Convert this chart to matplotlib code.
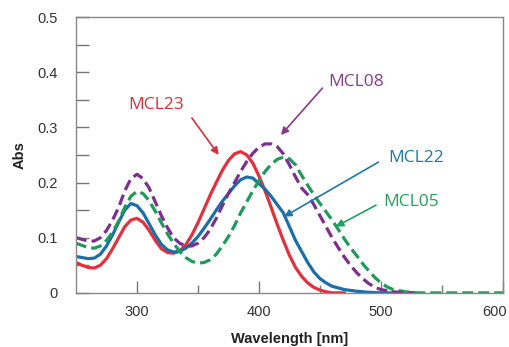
import matplotlib.pyplot as plt
import matplotlib.transforms as mtransforms

plt.rcParams["font.family"] = ["Liberation Sans", "DejaVu Sans"]

# absorption spectra
wl_mcl23 = [250, 255, 260, 265, 270, 275, 280, 285, 290, 295, 300, 305, 310, 315, 320, 325, 330, 335,
            340, 345, 350, 355, 360, 365, 370, 375, 380, 385, 390, 395, 400, 405, 410, 415, 420, 425,
            430, 435, 440, 445, 450, 455, 460, 470]
abs_mcl23 = [0.055, 0.050, 0.046, 0.045, 0.050, 0.062, 0.080, 0.100, 0.120, 0.132, 0.135, 0.128, 0.113,
             0.095, 0.080, 0.073, 0.072, 0.076, 0.087, 0.105, 0.127, 0.152, 0.177, 0.200, 0.222, 0.240,
             0.252, 0.256, 0.250, 0.235, 0.212, 0.185, 0.155, 0.124, 0.095, 0.068, 0.046, 0.030, 0.018,
             0.010, 0.005, 0.002, 0.0, 0.0]

wl_mcl22 = [250, 255, 260, 265, 270, 275, 280, 285, 290, 295, 300, 305, 310, 315, 320, 325, 330, 335,
            340, 345, 350, 355, 360, 365, 370, 375, 380, 385, 390, 395, 400, 405, 410, 415, 420, 425,
            430, 435, 440, 445, 450, 455, 460, 470, 480, 490, 500, 528]
abs_mcl22 = [0.066, 0.064, 0.062, 0.063, 0.070, 0.085, 0.105, 0.128, 0.150, 0.162, 0.158, 0.145, 0.125,
             0.105, 0.088, 0.078, 0.074, 0.075, 0.081, 0.090, 0.102, 0.117, 0.133, 0.150, 0.166, 0.180,
             0.194, 0.205, 0.210, 0.208, 0.198, 0.188, 0.175, 0.160, 0.145, 0.120, 0.095, 0.075, 0.055,
             0.038, 0.026, 0.018, 0.012, 0.006, 0.003, 0.001, 0.0, 0.0]

wl_mcl05 = [250, 255, 260, 265, 270, 275, 280, 285, 290, 295, 300, 305, 310, 315, 320, 325, 330, 335,
            340, 345, 350, 355, 360, 365, 370, 375, 380, 385, 390, 395, 400, 405, 410, 415, 420, 425,
            430, 435, 440, 445, 450, 455, 460, 465, 470, 475, 480, 485, 490, 495, 500, 505, 510, 520,
            530, 600]
abs_mcl05 = [0.090, 0.086, 0.082, 0.081, 0.085, 0.095, 0.110, 0.130, 0.155, 0.175, 0.184, 0.180, 0.167,
             0.148, 0.127, 0.107, 0.090, 0.075, 0.064, 0.057, 0.054, 0.055, 0.060, 0.070, 0.085, 0.102,
             0.122, 0.145, 0.165, 0.185, 0.203, 0.220, 0.233, 0.242, 0.246, 0.243, 0.232, 0.213, 0.195,
             0.178, 0.162, 0.147, 0.132, 0.115, 0.098, 0.082, 0.068, 0.053, 0.040, 0.028, 0.018, 0.011,
             0.006, 0.002, 0.0, 0.0]

wl_mcl08 = [250, 255, 260, 265, 270, 275, 280, 285, 290, 295, 300, 305, 310, 315, 320, 325, 330, 335,
            340, 345, 350, 355, 360, 365, 370, 375, 380, 385, 390, 395, 400, 405, 410, 415, 420, 425,
            430, 435, 440, 445, 450, 455, 460, 465, 470, 475, 480, 485, 490, 495, 500, 510, 520, 527]
abs_mcl08 = [0.100, 0.097, 0.094, 0.094, 0.100, 0.113, 0.132, 0.155, 0.185, 0.207, 0.215, 0.207, 0.190,
             0.165, 0.140, 0.118, 0.100, 0.090, 0.085, 0.085, 0.090, 0.100, 0.115, 0.135, 0.158, 0.180,
             0.200, 0.220, 0.238, 0.253, 0.264, 0.270, 0.270, 0.265, 0.252, 0.232, 0.210, 0.190, 0.178,
             0.160, 0.140, 0.120, 0.100, 0.082, 0.065, 0.050, 0.037, 0.026, 0.017, 0.010, 0.006, 0.002,
             0.0, 0.0]

# label text, text position, arrow start, arrow tip (data coords)
labels = ["MCL23", "MCL08", "MCL22", "MCL05"]
text_pos = [(316, 0.34), (480, 0.382), (529, 0.245), (525, 0.165)]
arrow_from = [(345, 0.317), (452, 0.371), (498, 0.237), (496, 0.159)]
arrow_to = [(367, 0.25), (418, 0.286), (420.5, 0.138), (463, 0.12)]
label_colors = ["#d9303c", "#883a8c", "#1f77a8", "#24a05e"]

c_red = "#e5303c"
c_purple = "#7b2f8f"
c_blue = "#1b6ea8"
c_green = "#1f9a5c"

fig = plt.figure(figsize=(5.1, 3.47), dpi=100)
ax = fig.add_axes([0.149, 0.156, 0.837, 0.795])

ax.plot(wl_mcl23, abs_mcl23, color=c_red, lw=2.3)
ax.plot(wl_mcl22, abs_mcl22, color=c_blue, lw=2.3)
ax.plot(wl_mcl05, abs_mcl05, color=c_green, lw=2.3, dashes=(3.4, 1.6))
ax.plot(wl_mcl08, abs_mcl08, color=c_purple, lw=2.3, dashes=(3.4, 1.6))

for lab, tp, af, at, col in zip(labels, text_pos, arrow_from, arrow_to, label_colors):
    ax.text(tp[0], tp[1], lab, color=col, fontsize=12.5, family="Open Sans",
            ha="center", va="center")
    ax.annotate("", xy=at, xytext=af,
                arrowprops=dict(arrowstyle="-|>", color=col, lw=1.2, mutation_scale=11,
                                shrinkA=0, shrinkB=0))

ax.set_xlim(250, 600)
ax.set_ylim(0, 0.5)
ax.set_xticks([300, 400, 500, 600])
ax.set_xticks([350, 450, 550], minor=True)
ax.set_yticks([0, 0.1, 0.2, 0.3, 0.4, 0.5])
ax.set_yticklabels(["0", "0.1", "0.2", "0.3", "0.4", "0.5"])
ax.set_yticks([0.05, 0.15, 0.25, 0.35, 0.45], minor=True)
ax.tick_params(which="major", direction="in", length=9, width=1, color="#777777",
               labelsize=10.5, labelcolor="#333333")
ax.tick_params(axis="y", which="major", pad=13)
ax.tick_params(axis="x", which="major", pad=9)
ax.tick_params(axis="x", which="minor", direction="in", length=6, width=1, color="#777777")
ax.tick_params(axis="y", which="minor", direction="in", length=9, width=1, color="#777777")
for s in ax.spines.values():
    s.set_color("#888888")
    s.set_linewidth(1)

# last x label sits a bit left of its tick, as in the original
last = ax.get_xticklabels()[-1]
last.set_transform(last.get_transform() + mtransforms.ScaledTranslation(-6 / 72, 0, fig.dpi_scale_trans))

ax.set_xlabel("Wavelength [nm]", fontsize=10.5, fontweight="bold",
              color="#222222", labelpad=9)
ax.set_ylabel("Abs", fontsize=10.5, fontweight="bold",
              color="#222222", labelpad=8)

fig.savefig("out.png", dpi=100)
